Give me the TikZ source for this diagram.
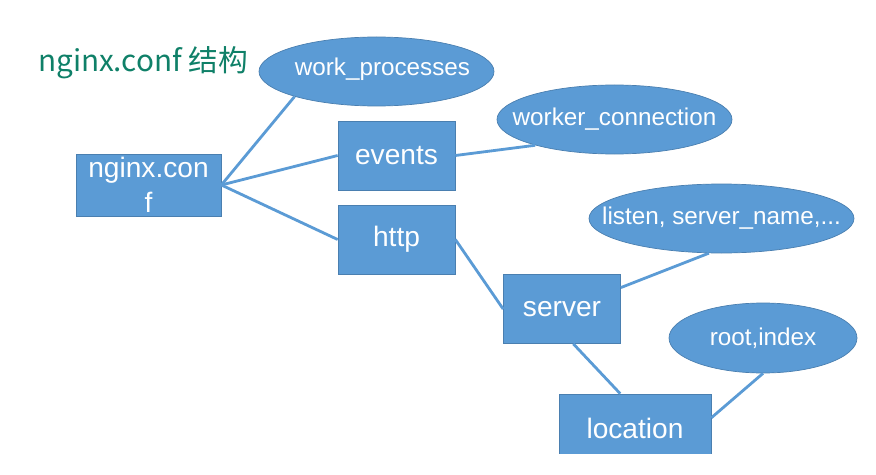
\documentclass[tikz,border=0pt]{standalone}
\usepackage{fontspec}
\setmainfont{Liberation Sans}
\newfontfamily\cjk{Noto Sans CJK SC}
\usepackage{xcolor}
\usetikzlibrary{shapes.geometric}
\definecolor{boxblue}{HTML}{5B9BD5}
\definecolor{edgeblue}{HTML}{4A7FB0}
\definecolor{titlegreen}{HTML}{0F8068}

\tikzset{
	box/.style={draw=edgeblue, line width=0.4pt, fill=boxblue, text=white, minimum width=2.34cm, minimum height=1.38cm, inner sep=0pt, align=center, font=\fontsize{16}{20}\selectfont},
	oval/.style={ellipse, draw=edgeblue, line width=0.4pt, fill=boxblue, minimum height=1.38cm, inner sep=0pt},
	ovaltext/.style={text=white, font=\fontsize{13.8}{16}\selectfont},
	link/.style={draw=boxblue, line width=1.6pt}
}

\begin{document}
\begin{tikzpicture}
						\useasboundingbox (0,0) rectangle (17.52,-9.5);
						\clip (0,0) rectangle (17.52,-9.06);
						
						\node (title) at (0.64,-1.44) [anchor=base west, text=titlegreen, font=\cjk\fontsize{16.9}{20}\selectfont] {nginx.conf 结构};
						
						\node (conf) at (2.97,-3.70) [box, minimum width=2.9cm, minimum height=1.24cm] {nginx.con\\f};
						\node (events) at (7.93,-3.11) [box] {events};
						\node (http) at (7.93,-4.79) [box] {http};
						\node (server) at (11.24,-6.18) [box] {server};
						\node (location) at (12.70,-8.57) [box, minimum width=3.04cm] {location};
						
						\node (work) at (7.53,-1.43) [oval, minimum width=4.7cm, label={[ovaltext, xshift=0.12cm, yshift=0.04cm]center:{work\_processes}}] {};
						\node (conn) at (12.29,-2.39) [oval, minimum width=4.7cm, label={[ovaltext]center:{worker\_connection}}] {};
						\node (listen) at (14.43,-4.37) [oval, minimum width=5.3cm, label={[ovaltext]center:{listen, server\_name,...}}] {};
						\node (rootidx) at (15.26,-6.76) [oval, minimum width=3.76cm, minimum height=1.4cm, label={[ovaltext]center:{root,index}}] {};
						
						\draw[link] (conf.east) -- (work.197);
						\draw[link] (conf.east) -- (events.west);
						\draw[link] (conf.east) -- (http.west);
						\draw[link] (events.east) -- (conn.198);
						\draw[link] (http.east) -- (server.west);
						\draw[link] (server.20) -- (listen.250);
						\draw[link] (server.288) -- (location.113);
						\draw[link] (location.8) -- (rootidx.south);
					\end{tikzpicture}
\end{document}
